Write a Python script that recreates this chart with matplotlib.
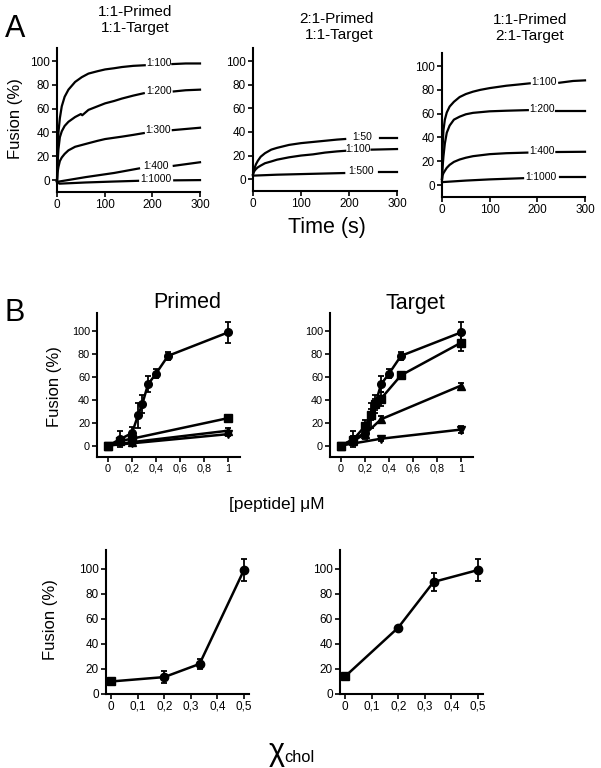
import matplotlib
matplotlib.use('Agg')
import matplotlib.pyplot as plt

plt.rcParams['font.family'] = ['Liberation Sans', 'DejaVu Sans']

W, H = 601, 768

# ---- panel A: fusion kinetics (traces) ----
# (label, early t, early y, late t, late y)  - the gap is where the label sits
a1_traces = [
    ('1:100', [0, 1, 3, 6, 10, 16, 24, 38, 52, 66, 85, 101, 120, 136, 160, 184],
     [-1, 22, 40, 52, 62, 70, 76, 82.5, 86.5, 89.5, 91.5, 93, 94, 95, 96, 96.5],
     [242, 270, 300], [97.5, 98, 98]),
    ('1:200', [0, 1, 3, 6, 10, 16, 24, 38, 50, 53, 66, 85, 101, 120, 136, 160, 182],
     [-1, 12, 26, 36, 41, 45.5, 49, 53, 55.5, 54.5, 59, 62, 64.5, 66.5, 68.5, 71, 73],
     [245, 270, 300], [74.5, 75.5, 76]),
    ('1:300', [0, 1, 3, 6, 10, 16, 24, 38, 52, 66, 85, 101, 136, 160, 182],
     [-1, 6, 11, 16, 19, 22, 25, 28, 29.5, 31, 33, 34.5, 36.5, 38, 39.5],
     [243, 300], [42, 44]),
    ('1:400', [0, 60, 120, 172], [-1.5, 2.5, 6, 9.8], [245, 300], [12, 15]),
    ('1:1000', [0, 5, 60, 120, 170], [-1, -3, -2, -1.2, -0.6], [246, 300], [-0.2, 0]),
]
a2_traces = [
    ('1:50', [0, 1, 3, 6, 10, 16, 25, 38, 50, 75, 100, 125, 150, 175, 192],
     [4, 6, 9, 12.5, 15.5, 19, 22, 25, 26.5, 29, 30.5, 31.5, 32.5, 33.5, 34],
     [265, 300], [35, 35]),
    ('1:100', [0, 1, 3, 6, 10, 16, 25, 38, 50, 75, 100, 125, 150, 175, 192],
     [4, 5.5, 7, 8.5, 10, 11.5, 13.5, 15, 16.5, 18.5, 20, 21, 22.5, 23.5, 24],
     [247, 300], [25, 25.5]),
    ('1:500', [0, 50, 100, 150, 190], [3, 3.8, 4.3, 4.8, 5.2], [262, 300], [6, 6]),
]
a3_traces = [
    ('1:100', [0, 1, 3, 6, 10, 16, 25, 37, 50, 65, 80, 100, 135, 160, 184],
     [5, 30, 46, 55, 61, 66, 70, 74, 76.5, 78.5, 80, 81.5, 83.5, 84.5, 85.5],
     [246, 275, 300], [86, 87.5, 88]),
    ('1:200', [0, 1, 3, 6, 10, 16, 25, 37, 50, 65, 100, 135, 180],
     [5, 14, 24, 35, 44, 50, 55, 57.5, 59.5, 60.7, 62, 62.5, 63],
     [240, 300], [62.5, 62.5]),
    ('1:400', [0, 1, 3, 6, 10, 16, 25, 37, 50, 65, 100, 135, 179],
     [5, 8, 10, 12, 14.5, 17, 19.5, 21.5, 23, 24.3, 26, 26.8, 27.3],
     [240, 300], [27.8, 28]),
    ('1:1000', [0, 50, 100, 170], [2.5, 3.8, 4.8, 5.8], [247, 300], [6.5, 6.5]),
]
a_titles = ['1:1-Primed\n1:1-Target', '2:1-Primed\n1:1-Target', '1:1-Primed\n2:1-Target']
a_xticks = [0, 100, 200, 300]
a_yticks = [0, 20, 40, 60, 80, 100]

# ---- panel B: dose response ----
pep_ticks = [0, 0.2, 0.4, 0.6, 0.8, 1]
pep_ticklabels = ['0', '0,2', '0,4', '0,6', '0,8', '1']
circ_x = [0, 0.1, 0.2, 0.25, 0.286, 0.333, 0.4, 0.5, 1]
circ_y = [0, 5.5, 11, 26.5, 36.5, 53.5, 63, 78.5, 99]
circ_err = [0, 7, 5, 11, 8, 7, 4, 3.5, 9]

primed_sq_x = [0, 0.1, 0.2, 1]
primed_sq_y = [0, 4, 6, 24]
primed_sq_err = [0, 0, 1, 3]
primed_tri_x = [0, 0.2, 1]
primed_tri_y = [0, 3, 13]
primed_tri_err = [0, 0, 2]
primed_inv_x = [0, 0.2, 1]
primed_inv_y = [0, 2, 10]
primed_inv_err = [0, 0, 2]

target_sq_x = [0, 0.1, 0.2, 0.25, 0.286, 0.333, 0.5, 1]
target_sq_y = [0, 5, 17, 27, 36, 41, 61.5, 90]
target_sq_err = [0, 3, 5, 5, 5, 6, 3, 7]
target_tri_x = [0, 0.1, 0.2, 0.333, 1]
target_tri_y = [0, 4, 10, 23, 52.5]
target_tri_err = [0, 0, 2, 3, 2]
target_inv_x = [0, 0.333, 1]
target_inv_y = [0, 6, 14]
target_inv_err = [0, 2, 3]

# ---- bottom: cholesterol fraction ----
chol_x = [0, 0.2, 0.333, 0.5]
chol_ticks = [0, 0.1, 0.2, 0.3, 0.4, 0.5]
chol_ticklabels = ['0', '0,1', '0,2', '0,3', '0,4', '0,5']
chol_primed = [10, 13.5, 24, 99]
chol_primed_err = [2, 5, 4, 9]
chol_target = [14, 53, 89.5, 99]
chol_target_err = [2, 1.5, 7, 9]

fig = plt.figure(figsize=(W / 100, H / 100), dpi=100)


def add_ax(left, top, right, bottom):
    ax = fig.add_axes([left / W, 1 - bottom / H, (right - left) / W, (bottom - top) / H])
    for s in ['top', 'right']:
        ax.spines[s].set_visible(False)
    for s in ['left', 'bottom']:
        ax.spines[s].set_linewidth(1.5)
    ax.tick_params(direction='out', length=3.5, width=1.2, pad=1.5)
    ax.patch.set_alpha(0)
    return ax


def ftext(x, y, s, **kw):
    fig.text(x / W, 1 - y / H, s, **kw)


# panel A
a_boxes = [(57, 48, 200, 192), (253, 48, 397, 191), (442, 53, 585, 197)]
for box, traces in zip(a_boxes, [a1_traces, a2_traces, a3_traces]):
    ax = add_ax(*box)
    ax.set_xlim(0, 300)
    ax.set_ylim(-10, 111)
    ax.set_xticks(a_xticks)
    ax.set_yticks(a_yticks)
    ax.tick_params(labelsize=8.5)
    for lab, te, ye, tl, yl in traces:
        ax.plot(te, ye, color='k', lw=1.6, clip_on=False)
        ax.plot(tl, yl, color='k', lw=1.6, clip_on=False)
        ax.text((te[-1] + tl[0]) / 2, (ye[-1] + yl[0]) / 2 + 1, lab,
                ha='center', va='center', fontsize=7.4)

ftext(135, 20, a_titles[0], ha='center', va='center', fontsize=11, multialignment='center')
ftext(374, 27, a_titles[1], ha='right', va='center', fontsize=11, multialignment='right')
ftext(530, 28, a_titles[2], ha='center', va='center', fontsize=11, multialignment='center')
ftext(15, 29, 'A', ha='center', va='center', fontsize=22)
ftext(16, 119, 'Fusion (%)', ha='center', va='center', rotation=90, fontsize=12)
ftext(327, 228, 'Time (s)', ha='center', va='center', fontsize=15.5)

# panel B
mk = dict(color='k', lw=1.8, capsize=2.5, elinewidth=1.3, capthick=1.3, ms=5.5, clip_on=False)
b_series = [
    [(circ_x, circ_y, circ_err, 'o'),
     (primed_sq_x, primed_sq_y, primed_sq_err, 's'),
     (primed_tri_x, primed_tri_y, primed_tri_err, '^'),
     (primed_inv_x, primed_inv_y, primed_inv_err, 'v')],
    [(circ_x, circ_y, circ_err, 'o'),
     (target_sq_x, target_sq_y, target_sq_err, 's'),
     (target_tri_x, target_tri_y, target_tri_err, '^'),
     (target_inv_x, target_inv_y, target_inv_err, 'v')],
]
b_boxes = [(97, 313, 240, 457), (330, 313, 473, 457)]
for box, series in zip(b_boxes, b_series):
    ax = add_ax(*box)
    ax.set_xlim(-0.092, 1.1)
    ax.set_ylim(-10, 116)
    ax.set_xticks(pep_ticks, pep_ticklabels)
    ax.set_yticks(a_yticks)
    ax.tick_params(labelsize=7.8)
    for x, y, e, m in series:
        ax.errorbar(x, y, yerr=e, fmt='-' + m, **mk)

ftext(15, 313, 'B', ha='center', va='center', fontsize=22)
ftext(187, 303, 'Primed', ha='center', va='center', fontsize=15.5)
ftext(415, 303, 'Target', ha='center', va='center', fontsize=15.5)
ftext(54, 387, 'Fusion (%)', ha='center', va='center', rotation=90, fontsize=12)
ftext(277, 505, '[peptide] \u03bcM', ha='center', va='center', fontsize=12.4)

# bottom: cholesterol
c_boxes = [(106, 550, 249, 694), (340, 550, 483, 694)]
for box, y, e in zip(c_boxes, [chol_primed, chol_target], [chol_primed_err, chol_target_err]):
    ax = add_ax(*box)
    ax.set_xlim(-0.019, 0.519)
    ax.set_ylim(0, 115)
    ax.set_xticks(chol_ticks, chol_ticklabels)
    ax.set_yticks(a_yticks)
    ax.tick_params(labelsize=8.5)
    ax.errorbar(chol_x, y, yerr=e, fmt='-', **{k: v for k, v in mk.items() if k != 'ms'})
    ax.plot(chol_x[:1], y[:1], 's', color='k', ms=5.5, clip_on=False)
    ax.plot(chol_x[1:], y[1:], 'o', color='k', ms=6, clip_on=False)

ftext(50, 620, 'Fusion (%)', ha='center', va='center', rotation=90, fontsize=12)
ftext(277, 752, '\u03c7', ha='center', va='center', fontsize=22)
ftext(284, 757, 'chol', ha='left', va='center', fontsize=11.8)

fig.savefig('out.png', dpi=100)
